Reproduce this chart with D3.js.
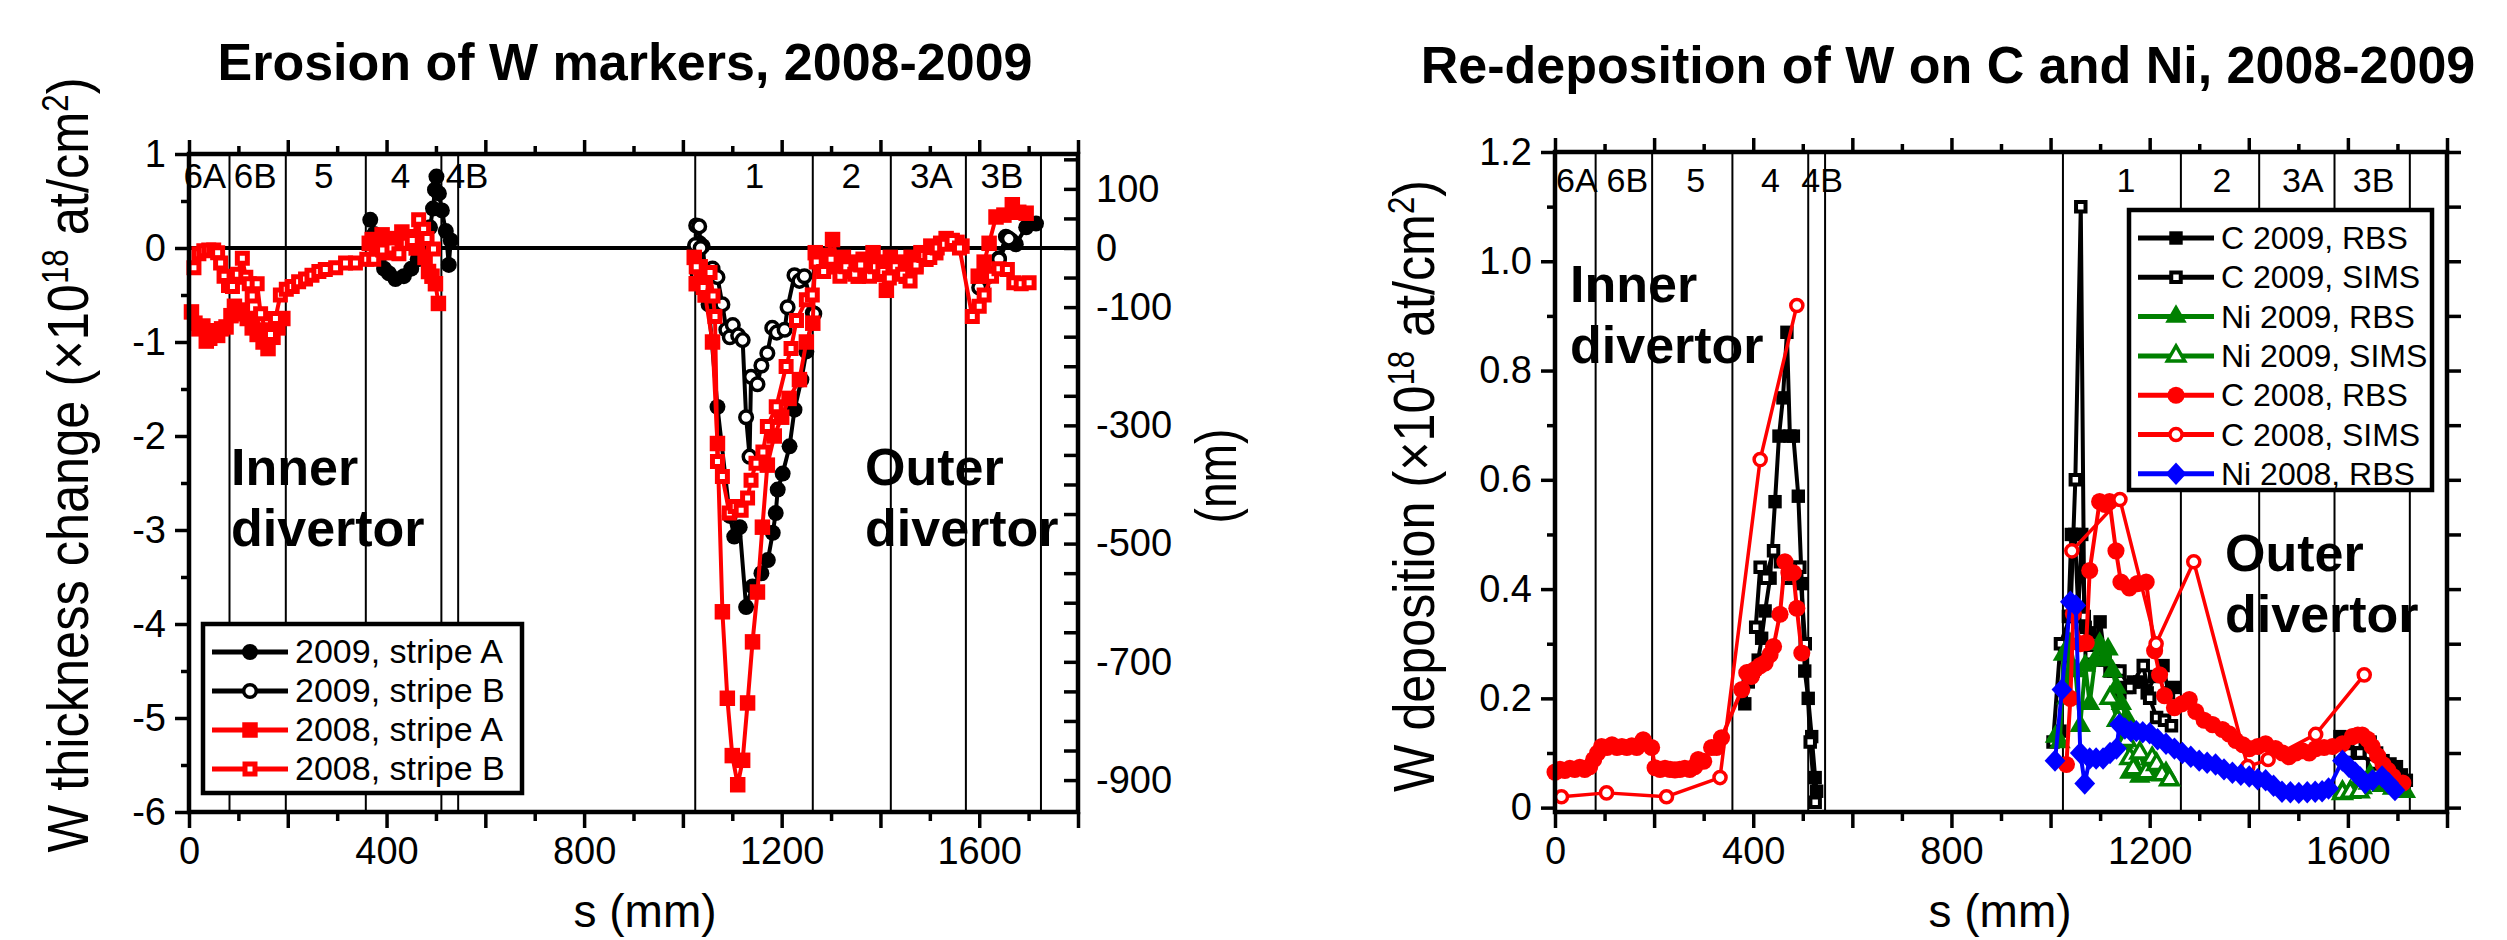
<!DOCTYPE html>
<html>
<head>
<meta charset="utf-8">
<script src="https://cdn.jsdelivr.net/npm/d3@7"></script>
<style>
  body { margin: 0; background: #fff; }
  svg text { font-family: "Liberation Sans", Arial, sans-serif; }
</style>
</head>
<body>
<div id="chart"></div>
<script>
// zones along the divertor (s in mm)
var zoneEdges = [82, 196, 358, 511, 545, 1025, 1263, 1421, 1573, 1725];
var zoneNames = ["6A", "6B", "5", "4", "4B", "1", "2", "3A", "3B"];
var zoneMidL = [32, 134, 273, 428, 563, 1145, 1341, 1503, 1646];
var zoneMidR = [44, 146, 284, 435, 539, 1152, 1346, 1509, 1652];

var sTicks = [0, 400, 800, 1200, 1600];
var eroTicks = [-6, -5, -4, -3, -2, -1, 0, 1];
var nmTicks = [100, 0, -100, -300, -500, -700, -900];
var depTicks = [0, 0.2, 0.4, 0.6, 0.8, 1.0, 1.2];

// W thickness change (1e18 at/cm2), [s, value], null = gap
var eroA2009 = [[367,0.30],[375,0.15],[385,-0.10],[395,-0.22],[405,-0.27],[418,-0.33],[435,-0.30],[450,-0.22],[463,-0.12],[478,0.05],[488,0.22],[494,0.42],[498,0.62],[501,0.76],[506,0.58],[512,0.40],[520,0.18],[526,-0.18],[530,0.08],
  null,
  [1025,0.02],[1034,0.05],[1040,0.02],[1052,-0.6],[1070,-1.69],[1095,-2.85],[1104,-3.07],[1115,-2.97],[1128,-3.82],[1141,-3.6],[1159,-3.46],[1172,-3.32],[1182,-3.03],[1188,-2.82],[1192,-2.57],[1202,-2.4],[1216,-2.11],[1226,-1.72],[1240,-1.4],[1250,-1.1],[1263,-0.69],
  null,
  [1606,-0.41],[1625,-0.28],[1640,-0.11],[1654,0.12],[1665,0.08],[1674,0.04],[1695,0.22],[1715,0.26]];
var eroB2009 = [[1025,0.03],[1027,0.24],[1033,0.23],[1036,0.0],[1030,-0.28],[1060,-0.22],[1070,-0.31],[1080,-0.6],[1088,-0.87],[1095,-0.95],[1101,-0.82],[1112,-0.93],[1121,-0.98],[1128,-1.8],[1135,-2.22],[1138,-1.37],[1151,-1.45],[1159,-1.25],[1171,-1.12],[1181,-0.85],[1190,-0.9],[1206,-0.87],[1212,-0.63],[1226,-0.29],[1236,-0.35],[1246,-0.30],[1266,-0.7],
  null,
  [1600,-0.42],[1618,-0.3],[1640,-0.12],[1660,0.1]];
var eroA2008 = [[5,-0.68],[12,-0.80],[20,-0.86],[28,-0.83],[35,-0.99],[42,-0.96],[50,-0.88],[58,-0.93],[66,-0.86],[75,-0.84],[85,-0.72],[92,-0.62],[100,-0.70],[108,-0.66],[118,-0.75],[128,-0.85],[138,-0.92],[150,-1.0],[160,-1.07],[170,-0.95],[180,-0.85],[190,-0.75],
  null,
  [365,0.05],[371,0.09],[380,0.04],[391,0.14],[400,-0.05],[410,0.1],[420,-0.02],[431,0.17],[440,0.05],[450,0.12],[460,0.0],[470,0.15],[478,-0.1],[485,-0.25],[492,-0.3],[499,-0.38],[505,-0.59],
  null,
  [1023,-0.1],[1027,-0.38],[1035,-0.2],[1045,-0.5],[1060,-1.0],[1070,-2.08],[1080,-3.87],[1090,-4.79],[1100,-5.4],[1111,-5.71],[1121,-5.45],[1131,-4.84],[1141,-4.19],[1151,-3.66],[1161,-2.97],[1171,-2.31],[1185,-2.0],[1200,-1.8],[1215,-1.6],[1236,-1.4],[1250,-1.0],[1263,-0.8],[1268,-0.05],[1280,-0.15],[1292,-0.08],[1303,0.09],[1315,-0.2],[1325,-0.1],[1335,-0.25],[1345,-0.15],[1355,-0.3],[1365,-0.12],[1375,-0.22],[1385,-0.05],[1395,-0.28],[1405,-0.15],[1412,-0.45],[1420,-0.1],[1432,-0.22],[1442,-0.15],[1452,-0.3],[1462,-0.1],[1472,-0.2],[1482,-0.05],[1492,-0.12],[1502,0.02],[1512,-0.05],[1522,0.05],[1533,0.1],[1545,0.08],[1555,0.06],[1565,0.02],
  null,
  [1598,-0.3],[1610,-0.15],[1620,0.05],[1634,0.33],[1650,0.35],[1667,0.46],[1680,0.38],[1695,0.37]];
var eroB2008 = [[10,-0.21],[20,-0.06],[30,-0.03],[40,-0.02],[50,-0.02],[58,-0.05],[64,-0.16],[71,-0.30],[80,-0.40],[88,-0.41],[98,-0.28],[108,-0.11],[115,-0.31],[122,-0.38],[128,-0.51],[138,-0.38],[145,-0.7],[155,-0.87],[165,-0.92],[175,-0.75],[185,-0.5],[197,-0.44],[209,-0.41],[222,-0.36],[236,-0.33],[249,-0.29],[263,-0.25],[276,-0.23],[297,-0.21],[317,-0.16],[337,-0.16],[360,-0.12],[374,-0.12],[392,-0.02],[411,0.0],[425,-0.06],[440,0.05],[452,0.08],[465,0.30],[475,0.2],[482,0.10],[495,-0.01],
  null,
  [1027,-0.2],[1041,-0.42],[1055,-0.26],[1061,-0.51],[1065,-0.73],[1070,-2.27],[1080,-2.43],[1094,-2.82],[1106,-2.75],[1118,-2.79],[1131,-2.66],[1138,-2.47],[1148,-2.29],[1162,-2.17],[1171,-1.9],[1189,-1.69],[1209,-1.26],[1219,-1.07],[1230,-0.77],[1250,-0.55],[1262,-0.5],[1270,-0.15],[1285,-0.25],[1300,-0.12],[1318,-0.3],[1330,-0.2],[1348,-0.28],[1360,-0.18],[1378,-0.3],[1390,-0.2],[1405,-0.25],[1418,-0.32],[1430,-0.2],[1445,-0.28],[1460,-0.35],[1472,-0.18],[1488,-0.08],[1500,-0.1],[1515,0.0],[1530,0.04],[1545,0.08],[1560,0.0],[1586,-0.73],[1600,-0.62],[1610,-0.5],[1625,-0.3],[1640,-0.22],[1657,-0.23],[1670,-0.37],[1685,-0.38],[1701,-0.37]];

// W deposition (1e18 at/cm2)
var depC09RBS = [[383,0.19],[390,0.23],[400,0.25],[410,0.27],[417,0.31],[424,0.36],[434,0.42],[444,0.56],[452,0.68],[460,0.75],[468,0.87],[474,0.68],[481,0.68],[491,0.57],[498,0.41],[504,0.25],[511,0.20],[518,0.13],[525,0.055],[528,0.03],
  null,
  [1019,0.14],[1030,0.28],[1036,0.35],[1042,0.5],[1049,0.5],[1056,0.36],[1063,0.5],[1070,0.33],[1080,0.32],[1090,0.29],[1100,0.34],[1110,0.27],[1127,0.25],[1140,0.21],[1153,0.22],[1167,0.23],[1180,0.23],[1195,0.21],[1210,0.24],[1227,0.26],[1238,0.21],[1248,0.22],
  null,
  [1584,0.13],[1600,0.12],[1612,0.1],[1624,0.1],[1635,0.12],[1645,0.12],[1658,0.1],[1671,0.086],[1685,0.08],[1698,0.075],[1708,0.06],[1718,0.05]];
var depC09SIMS = [[405,0.33],[414,0.44],[425,0.42],[441,0.47],[455,0.45],[470,0.42],[485,0.44],[494,0.44],[505,0.3],[515,0.12],[525,0.01],
  null,
  [1005,0.12],[1020,0.3],[1040,0.35],[1050,0.6],[1061,1.1],[1068,0.35],[1080,0.28],[1100,0.27],[1120,0.25],[1140,0.25],[1160,0.22],[1187,0.26],[1200,0.2],[1214,0.165],[1230,0.16],[1244,0.15],
  null,
  [1600,0.1],[1624,0.1],[1650,0.08],[1680,0.07],[1700,0.05]];
var depNi09RBS = [[1010,0.13],[1019,0.12],[1026,0.28],[1033,0.2],[1039,0.3],[1050,0.25],[1060,0.15],[1070,0.26],[1079,0.19],[1090,0.27],[1099,0.30],[1108,0.27],[1116,0.29],[1125,0.25],[1133,0.22],[1143,0.19],[1153,0.165],[1160,0.064],[1170,0.07],[1180,0.057],[1195,0.07],[1210,0.06],[1233,0.064],
  null,
  [1589,0.03],[1605,0.03],[1615,0.035],[1629,0.036],[1645,0.06],[1660,0.045],[1669,0.04],[1690,0.035],[1716,0.029]];
var depNi09SIMS = [[1120,0.2],[1135,0.16],[1145,0.12],[1153,0.123],[1160,0.09],[1167,0.071],[1180,0.1],[1193,0.064],[1205,0.09],[1214,0.079],[1225,0.06],[1240,0.051],
  null,
  [1589,0.026],[1605,0.028],[1623,0.029],[1643,0.045]];
var depC08RBS = [[0,0.065],[10,0.07],[20,0.068],[30,0.072],[40,0.07],[50,0.074],[60,0.07],[70,0.075],[78,0.088],[86,0.1],[94,0.112],[105,0.11],[115,0.115],[125,0.11],[135,0.112],[145,0.11],[155,0.113],[165,0.11],[178,0.124],[195,0.11],[202,0.073],[212,0.07],[222,0.072],[232,0.07],[242,0.069],[252,0.07],[262,0.072],[272,0.07],[282,0.075],[289,0.088],[300,0.085],[316,0.11],[326,0.11],[336,0.128],[377,0.216],[387,0.247],[396,0.24],[404,0.253],[414,0.26],[424,0.265],[434,0.28],[441,0.295],[454,0.354],[464,0.45],[472,0.43],[481,0.43],[488,0.365],[498,0.283],
  null,
  [1032,0.079],[1040,0.2],[1046,0.355],[1060,0.3],[1072,0.302],[1079,0.434],[1099,0.56],[1110,0.555],[1119,0.56],[1132,0.47],[1142,0.413],[1159,0.402],[1175,0.41],[1193,0.413],[1210,0.287],[1220,0.243],[1230,0.205],[1250,0.183],[1265,0.19],[1280,0.198],[1293,0.176],[1310,0.16],[1327,0.152],[1347,0.143],[1360,0.135],[1374,0.123],[1388,0.115],[1401,0.108],[1418,0.112],[1434,0.117],[1454,0.108],[1468,0.1],[1481,0.093],[1495,0.1],[1508,0.104],[1522,0.1],[1535,0.108],[1552,0.11],[1569,0.112],[1589,0.117],[1609,0.13],[1620,0.133],[1629,0.133],[1640,0.125],[1649,0.112],[1660,0.095],[1671,0.079],[1681,0.068],[1691,0.057],[1711,0.045]];
var depC08SIMS = [[13,0.02],[104,0.027],[225,0.02],[333,0.055],[414,0.637],[488,0.919],
  null,
  [1043,0.47],[1140,0.564],[1213,0.3],[1289,0.45],[1398,0.075],[1439,0.088],[1535,0.134],[1633,0.243]];
var depNi08RBS = [[1009,0.086],[1023,0.216],[1040,0.377],[1051,0.37],[1060,0.1],[1069,0.044],[1079,0.09],[1092,0.09],[1106,0.09],[1120,0.1],[1133,0.108],[1139,0.152],[1150,0.145],[1162,0.14],[1173,0.14],[1186,0.138],[1200,0.136],[1216,0.125],[1233,0.117],[1250,0.108],[1266,0.1],[1283,0.093],[1300,0.086],[1316,0.082],[1333,0.079],[1350,0.07],[1367,0.064],[1384,0.06],[1401,0.057],[1418,0.052],[1434,0.05],[1450,0.04],[1467,0.029],[1484,0.028],[1501,0.027],[1518,0.028],[1534,0.029],[1548,0.03],[1561,0.035],[1589,0.086],[1602,0.075],[1615,0.064],[1625,0.055],[1635,0.045],[1650,0.05],[1669,0.057],[1682,0.045],[1695,0.032]];

var w = 2507, h = 940;
var svg = d3.select("#chart").append("svg").attr("width", w).attr("height", h);

// diamond drawn as a square turned 45 degrees
var symDiamond = {
  draw: function (ctx, size) {
    var r = Math.sqrt(size) / 2 * 1.2;
    ctx.moveTo(0, -r * 1.08); ctx.lineTo(r, 0); ctx.lineTo(0, r * 1.08); ctx.lineTo(-r, 0); ctx.closePath();
  }
};

function drawSeries(g, x, y, data, st) {
  var line = d3.line().defined(function (d) { return d !== null; })
    .x(function (d) { return x(d[0]); }).y(function (d) { return y(d[1]); });
  g.append("path").datum(data).attr("d", line)
    .attr("fill", "none").attr("stroke", st.color).attr("stroke-width", st.lw)
    .attr("stroke-linejoin", "round");
  g.selectAll(null).data(data.filter(function (d) { return d !== null; }))
    .enter().append("path")
    .attr("transform", function (d) { return "translate(" + x(d[0]) + "," + y(d[1]) + ")"; })
    .attr("d", d3.symbol().type(st.shape).size(st.size))
    .attr("fill", st.open ? "#fff" : st.color)
    .attr("stroke", st.color).attr("stroke-width", st.open ? st.sw : 0);
}

function styleAxis(sel, fs) {
  sel.select(".domain").remove();
  sel.selectAll(".tick line").attr("stroke", "#000").attr("stroke-width", 3.5);
  sel.selectAll("text").attr("fill", "#000");
  sel.attr("font-size", fs).attr("font-family", "Liberation Sans, Arial, sans-serif");
}

function sAxes(g, x, top, bottom) {
  var b1 = g.append("g").attr("transform", "translate(0," + bottom + ")")
    .call(d3.axisBottom(x).tickValues(d3.range(0, 1801, 200)).tickSize(16).tickPadding(9)
      .tickFormat(function (d) { return sTicks.indexOf(d) >= 0 ? d : ""; }));
  styleAxis(b1, 38);
  var b2 = g.append("g").attr("transform", "translate(0," + bottom + ")")
    .call(d3.axisBottom(x).tickValues(d3.range(100, 1800, 200)).tickSize(9).tickFormat(""));
  styleAxis(b2, 38);
  var t1 = g.append("g").attr("transform", "translate(0," + top + ")")
    .call(d3.axisTop(x).tickValues(d3.range(0, 1801, 200)).tickSize(14).tickFormat(""));
  styleAxis(t1, 38);
  var t2 = g.append("g").attr("transform", "translate(0," + top + ")")
    .call(d3.axisTop(x).tickValues(d3.range(100, 1800, 200)).tickSize(8).tickFormat(""));
  styleAxis(t2, 38);
}

function zones(g, x, top, bottom, mids, fs, base) {
  g.selectAll(null).data(zoneEdges).enter().append("line")
    .attr("x1", function (d) { return x(d); }).attr("x2", function (d) { return x(d); })
    .attr("y1", top).attr("y2", bottom).attr("stroke", "#000").attr("stroke-width", 2);
  g.selectAll(null).data(zoneNames).enter().append("text")
    .attr("x", function (d, i) { return x(mids[i]); }).attr("y", base)
    .attr("text-anchor", "middle").attr("font-size", fs).text(function (d) { return d; });
}

function yLabel(g, x, y, len, parts) {
  var t = g.append("text").attr("transform", "translate(" + x + "," + y + ") rotate(-90)")
    .attr("text-anchor", "middle").attr("font-size", 58)
    .attr("textLength", len).attr("lengthAdjust", "spacingAndGlyphs");
  parts.forEach(function (p) {
    var ts = t.append("tspan").text(p[0]);
    if (p[1]) ts.attr("font-size", 36).attr("baseline-shift", "super");
  });
}

function bigText(g, x, y, lines) {
  lines.forEach(function (s, i) {
    g.append("text").attr("x", x).attr("y", y + i * 61).attr("font-size", 52)
      .attr("font-weight", "bold").text(s);
  });
}

function legend(g, items, box, fs, step) {
  g.append("rect").attr("x", box[0]).attr("y", box[1]).attr("width", box[2]).attr("height", box[3])
    .attr("fill", "#fff").attr("stroke", "#000").attr("stroke-width", 4.5);
  items.forEach(function (it, i) {
    var yb = box[1] + 39 + i * step, ym = yb - 11;
    g.append("line").attr("x1", box[0] + 9).attr("x2", box[0] + 85).attr("y1", ym).attr("y2", ym)
      .attr("stroke", it.st.color).attr("stroke-width", 5);
    g.append("path").attr("transform", "translate(" + (box[0] + 47) + "," + ym + ")")
      .attr("d", d3.symbol().type(it.st.shape).size(it.st.size))
      .attr("fill", it.st.open ? "#fff" : it.st.color)
      .attr("stroke", it.st.color).attr("stroke-width", it.st.open ? it.st.sw : 0);
    g.append("text").attr("x", box[0] + 92).attr("y", yb).attr("font-size", fs).text(it.name);
  });
}

// ---------- left panel: erosion ----------
var gl = svg.append("g");
var xL = d3.scaleLinear().domain([0, 1800]).range([189, 1078]);
var yL = d3.scaleLinear().domain([-6, 1]).range([812, 154]);
var nmL = d3.scaleLinear().domain([-6 * 159, 159]).range([812, 154]);

zones(gl, xL, 154, 812, zoneMidL, 35, 188);
gl.append("line").attr("x1", 189).attr("x2", 1078).attr("y1", yL(0)).attr("y2", yL(0))
  .attr("stroke", "#000").attr("stroke-width", 4);

var stA09 = {color: "#000", shape: d3.symbolCircle, size: 200, lw: 4};
var stB09 = {color: "#000", shape: d3.symbolCircle, size: 125, lw: 4, open: true, sw: 3.5};
var stA08 = {color: "#ff0000", shape: d3.symbolSquare, size: 240, lw: 4};
var stB08 = {color: "#ff0000", shape: d3.symbolSquare, size: 100, lw: 4, open: true, sw: 5};
drawSeries(gl, xL, yL, eroA2009, stA09);
drawSeries(gl, xL, yL, eroB2009, stB09);
drawSeries(gl, xL, yL, eroA2008, stA08);
drawSeries(gl, xL, yL, eroB2008, stB08);

legend(gl, [
  {name: "2009, stripe A", st: stA09},
  {name: "2009, stripe B", st: stB09},
  {name: "2008, stripe A", st: stA08},
  {name: "2008, stripe B", st: stB08}
], [203, 624, 319, 169], 34, 39);

sAxes(gl, xL, 154, 812);
var ly1 = gl.append("g").attr("transform", "translate(189,0)")
  .call(d3.axisLeft(yL).tickValues(eroTicks).tickSize(14).tickPadding(9).tickFormat(function (d) { return String(d); }));
styleAxis(ly1, 38);
var ly2 = gl.append("g").attr("transform", "translate(189,0)")
  .call(d3.axisLeft(yL).tickValues(d3.range(-5.5, 1, 1)).tickSize(8).tickFormat(""));
styleAxis(ly2, 38);
var ry1 = gl.append("g").attr("transform", "translate(1078,0)")
  .call(d3.axisLeft(nmL).tickValues(d3.range(-900, 151, 50)).tickSize(14).tickFormat(""));
styleAxis(ry1, 38);
var ry2 = gl.append("g").attr("transform", "translate(1078,0)")
  .call(d3.axisRight(nmL).tickValues(nmTicks).tickSize(0).tickPadding(18).tickFormat(function (d) { return String(d); }));
styleAxis(ry2, 38);
gl.append("rect").attr("x", 189).attr("y", 154).attr("width", 1078 - 189).attr("height", 812 - 154)
  .attr("fill", "none").attr("stroke", "#000").attr("stroke-width", 4.5);

bigText(gl, 231, 485, ["Inner", "divertor"]);
bigText(gl, 865, 485, ["Outer", "divertor"]);
gl.append("text").attr("x", 625).attr("y", 80).attr("text-anchor", "middle").attr("font-size", 52)
  .attr("font-weight", "bold").text("Erosion of W markers, 2008-2009");
yLabel(gl, 88, 465, 775, [["W thickness change (\u00d710"], ["18", true], [" at/cm"], ["2", true], [")"]]);
yLabel(gl, 1236, 476, 95, [["(nm)"]]);
gl.append("text").attr("x", 645).attr("y", 927).attr("text-anchor", "middle").attr("font-size", 46).text("s (mm)");

// ---------- right panel: re-deposition ----------
var gr = svg.append("g");
var xR = d3.scaleLinear().domain([0, 1800]).range([1555, 2447]);
var yR = d3.scaleLinear().domain([-0.008, 1.2]).range([812, 152]);

zones(gr, xR, 152, 812, zoneMidR, 34, 192);

var stC09R = {color: "#000", shape: d3.symbolSquare, size: 180, lw: 4};
var stC09S = {color: "#000", shape: d3.symbolSquare, size: 90, lw: 4, open: true, sw: 4};
var stN09R = {color: "#008000", shape: d3.symbolTriangle, size: 200, lw: 4};
var stN09S = {color: "#008000", shape: d3.symbolTriangle, size: 130, lw: 4, open: true, sw: 3.5};
var stC08R = {color: "#ff0000", shape: d3.symbolCircle, size: 230, lw: 4};
var stC08S = {color: "#ff0000", shape: d3.symbolCircle, size: 115, lw: 3.5, open: true, sw: 3.5};
var stN08R = {color: "#0000ff", shape: symDiamond, size: 300, lw: 4};

drawSeries(gr, xR, yR, depC09RBS, stC09R);
drawSeries(gr, xR, yR, depC09SIMS, stC09S);
drawSeries(gr, xR, yR, depNi09RBS, stN09R);
drawSeries(gr, xR, yR, depNi09SIMS, stN09S);
drawSeries(gr, xR, yR, depC08RBS, stC08R);
drawSeries(gr, xR, yR, depC08SIMS, stC08S);
drawSeries(gr, xR, yR, depNi08RBS, stN08R);

legend(gr, [
  {name: "C 2009, RBS", st: stC09R},
  {name: "C 2009, SIMS", st: stC09S},
  {name: "Ni 2009, RBS", st: stN09R},
  {name: "Ni 2009, SIMS", st: stN09S},
  {name: "C 2008, RBS", st: stC08R},
  {name: "C 2008, SIMS", st: stC08S},
  {name: "Ni 2008, RBS", st: stN08R}
], [2129, 210, 303, 280], 32, 39.3);

sAxes(gr, xR, 152, 812);
var dy1 = gr.append("g").attr("transform", "translate(1555,0)")
  .call(d3.axisLeft(yR).tickValues(depTicks).tickSize(14).tickPadding(9)
    .tickFormat(function (d) { return d === 0 ? "0" : d3.format(".1f")(d); }));
styleAxis(dy1, 38);
var dy2 = gr.append("g").attr("transform", "translate(1555,0)")
  .call(d3.axisLeft(yR).tickValues(d3.range(0.1, 1.2, 0.2)).tickSize(8).tickFormat(""));
styleAxis(dy2, 38);
var dy3 = gr.append("g").attr("transform", "translate(2447,0)")
  .call(d3.axisRight(yR).tickValues(d3.range(0, 1.21, 0.1)).tickSize(14).tickFormat(""));
styleAxis(dy3, 38);
gr.append("rect").attr("x", 1555).attr("y", 152).attr("width", 2447 - 1555).attr("height", 812 - 152)
  .attr("fill", "none").attr("stroke", "#000").attr("stroke-width", 4.5);

bigText(gr, 1570, 302, ["Inner", "divertor"]);
bigText(gr, 2225, 571, ["Outer", "divertor"]);
gr.append("text").attr("x", 1948).attr("y", 83).attr("text-anchor", "middle").attr("font-size", 52)
  .attr("font-weight", "bold").text("Re-deposition of W on C and Ni, 2008-2009");
yLabel(gr, 1434, 486, 612, [["W deposition (\u00d710"], ["18", true], [" at/cm"], ["2", true], [")"]]);
gr.append("text").attr("x", 2000).attr("y", 927).attr("text-anchor", "middle").attr("font-size", 46).text("s (mm)");
</script>
</body>
</html>
